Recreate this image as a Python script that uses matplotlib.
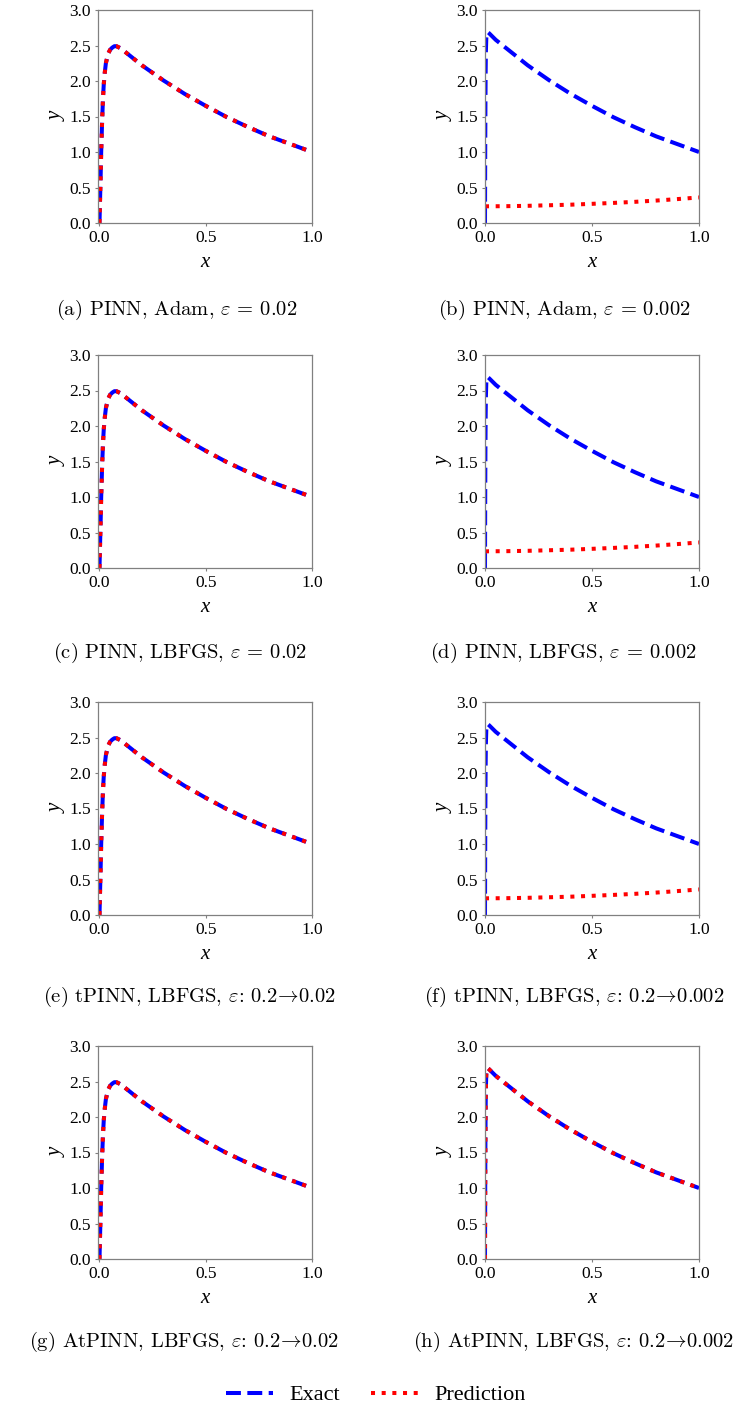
import matplotlib
matplotlib.use("Agg")
import matplotlib.pyplot as plt
from matplotlib.lines import Line2D

plt.rcParams['font.family'] = ['Liberation Serif', 'DejaVu Serif']
plt.rcParams['mathtext.fontset'] = 'cm'

# exact / converged solution, eps = 0.02
x_e1 = [0, 0.002, 0.005, 0.008, 0.012, 0.016, 0.02, 0.025, 0.03, 0.04, 0.05,
        0.06, 0.07, 0.08, 0.1, 0.15, 0.2, 0.3, 0.4, 0.5, 0.6, 0.7, 0.8, 0.9, 1.0]
y_e1 = [0, 0.25, 0.6, 1.0, 1.4, 1.72, 1.95, 2.12, 2.25, 2.38, 2.44,
        2.47, 2.49, 2.49, 2.46, 2.34, 2.22, 2.01, 1.82, 1.65, 1.49, 1.35, 1.22, 1.11, 1.0]

# exact solution, eps = 0.002
x_e2 = [0, 0.001, 0.002, 0.003, 0.004, 0.006, 0.008, 0.012, 0.02, 0.05, 0.1,
        0.2, 0.3, 0.4, 0.5, 0.6, 0.7, 0.8, 0.9, 1.0]
y_e2 = [0, 1.0, 1.7, 2.15, 2.4, 2.6, 2.66, 2.69, 2.67, 2.58, 2.46,
        2.22, 2.01, 1.82, 1.65, 1.49, 1.35, 1.22, 1.11, 1.0]

# failed prediction, eps = 0.002
x_fail = [0, 0.1, 0.2, 0.3, 0.4, 0.5, 0.6, 0.7, 0.8, 0.9, 1.0]
y_fail = [0.235, 0.237, 0.242, 0.25, 0.258, 0.27, 0.283, 0.298, 0.316, 0.337, 0.36]

arrow = r'$\!\rightarrow\!$'
captions = [
    r'(a) PINN, Adam, $\varepsilon$ = 0.02',
    r'(b) PINN, Adam, $\varepsilon$ = 0.002',
    r'(c) PINN, LBFGS, $\varepsilon$ = 0.02',
    r'(d) PINN, LBFGS, $\varepsilon$ = 0.002',
    r'(e) tPINN, LBFGS, $\varepsilon$: 0.2' + arrow + '0.02',
    r'(f) tPINN, LBFGS, $\varepsilon$: 0.2' + arrow + '0.002',
    r'(g) AtPINN, LBFGS, $\varepsilon$: 0.2' + arrow + '0.02',
    r'(h) AtPINN, LBFGS, $\varepsilon$: 0.2' + arrow + '0.002',
]

# (exact x, exact y, pred x, pred y) for each panel
panels = [
    (x_e1, y_e1, x_e1, y_e1),
    (x_e2, y_e2, x_fail, y_fail),
    (x_e1, y_e1, x_e1, y_e1),
    (x_e2, y_e2, x_fail, y_fail),
    (x_e1, y_e1, x_e1, y_e1),
    (x_e2, y_e2, x_fail, y_fail),
    (x_e1, y_e1, x_e1, y_e1),
    (x_e2, y_e2, x_e2, y_e2),
]

W, H = 742, 1409
fig = plt.figure(figsize=(W / 100, H / 100), dpi=100)

row_tops = [10, 355, 702, 1046]
col_lefts = [98, 485]
cap_x = [177, 564, 180, 563, 190, 574, 184, 574]
cap_y = [310, 653, 997, 1342]
spine_col = '#808080'
lw = 2.9

for i, (xe, ye, xp, yp) in enumerate(panels):
    r, c = divmod(i, 2)
    left = col_lefts[c]
    top = row_tops[r]
    ax = fig.add_axes([left / W, 1 - (top + 213) / H, 214 / W, 213 / H])
    ax.plot(xe, ye, color='blue', linestyle='--', linewidth=lw)
    ax.plot(xp, yp, color='red', linestyle=':', linewidth=lw)
    ax.set_xlim(-0.007 if c == 0 else 0.0, 1.0)
    ax.set_ylim(0, 3.0)
    ax.set_xticks([0.0, 0.5, 1.0])
    ax.set_yticks([0.0, 0.5, 1.0, 1.5, 2.0, 2.5, 3.0])
    ax.set_xticklabels(['0.0', '0.5', '1.0'], family='Liberation Serif')
    ax.set_yticklabels(['0.0', '0.5', '1.0', '1.5', '2.0', '2.5', '3.0'],
                       family='Liberation Serif')
    ax.tick_params(labelsize=12.5, length=2, width=0.8, color=spine_col, pad=3)
    for s in ax.spines.values():
        s.set_color(spine_col)
        s.set_linewidth(0.9)
    ax.set_xlabel('x', fontsize=15, style='italic', family='Liberation Serif',
                  labelpad=5)
    ax.set_ylabel('y', fontsize=15, style='italic', family='Liberation Serif',
                  labelpad=2)
    fig.text(cap_x[i] / W, 1 - cap_y[r] / H, captions[i], fontsize=14.8,
             family='cmr10', ha='center', va='center')

handles = [Line2D([], [], color='blue', linestyle='--', linewidth=lw),
           Line2D([], [], color='red', linestyle=':', linewidth=lw)]
fig.legend(handles, ['Exact', 'Prediction'], loc='center',
           bbox_to_anchor=(376 / W, 1 - 1395 / H), ncol=2, frameon=False,
           prop={'family': 'Liberation Serif', 'size': 16},
           handlelength=2.1, columnspacing=1.4, handletextpad=0.75)

fig.savefig('out.png', dpi=100)
